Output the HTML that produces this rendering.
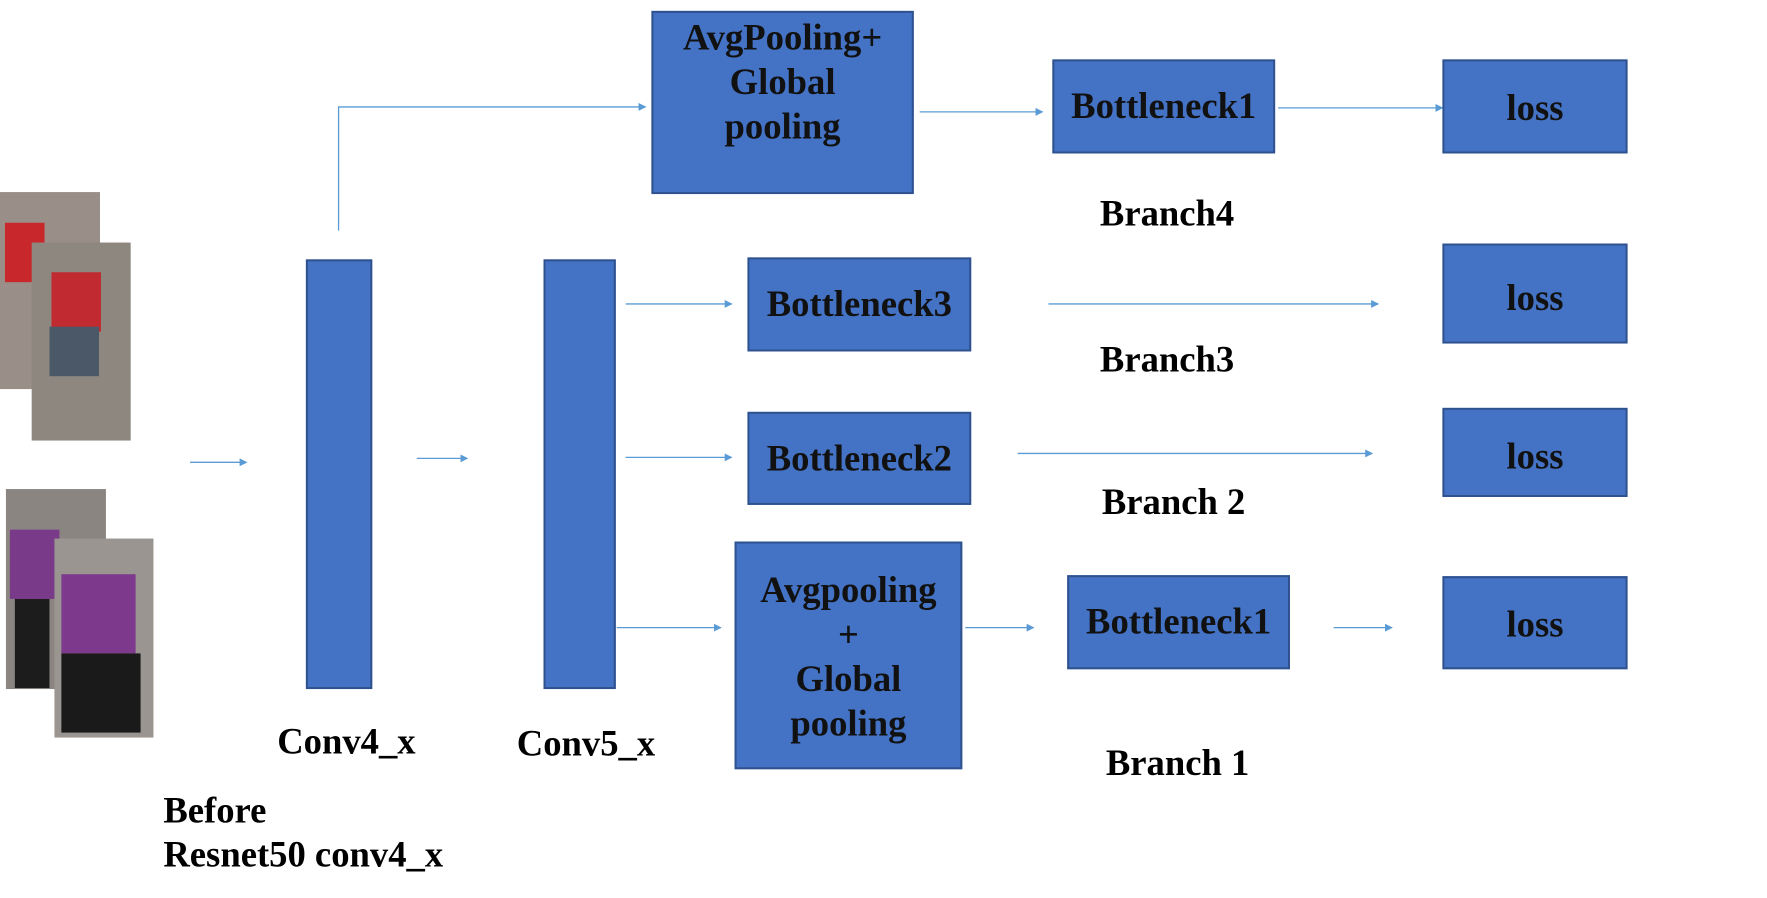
<!DOCTYPE html>
<html><head><meta charset="utf-8"><style>
body{margin:0;width:1767px;height:898px;background:#fff;overflow:hidden;font-family:"Liberation Serif",serif;font-weight:bold;}
#w{position:absolute;left:0;top:0;width:1767px;height:898px;transform:scale(0.99);transform-origin:0 0;}
.b{position:absolute;background:#4472C4;border:2px solid #2F528F;box-sizing:border-box;display:flex;align-items:center;justify-content:center;text-align:center;color:#111;font-size:37px;line-height:45px;}
.t{position:absolute;font-size:37px;color:#000;white-space:nowrap;}
</style></head><body><div id="w">
<svg width="1767" height="898" style="position:absolute;left:0;top:0">
<defs><marker id="a" markerWidth="8" markerHeight="8" refX="7" refY="4" orient="auto" markerUnits="userSpaceOnUse"><path d="M0,0 L8,4 L0,8z" fill="#5B9BD5"/></marker></defs>
<g stroke="#5B9BD5" stroke-width="1.3" fill="none" marker-end="url(#a)">
<polyline points="342,233 342,108 652,108"/>
<line x1="929" y1="113" x2="1053" y2="113"/>
<line x1="1291" y1="109" x2="1457" y2="109"/>
<line x1="632" y1="307" x2="739" y2="307"/>
<line x1="1059" y1="307" x2="1392" y2="307"/>
<line x1="632" y1="462" x2="739" y2="462"/>
<line x1="1028" y1="458" x2="1386" y2="458"/>
<line x1="623" y1="634" x2="728" y2="634"/>
<line x1="975" y1="634" x2="1044" y2="634"/>
<line x1="1347" y1="634" x2="1406" y2="634"/>
<line x1="192" y1="467" x2="249" y2="467"/>
<line x1="421" y1="463" x2="472" y2="463"/>
</g>
<rect x="0" y="194" width="101" height="199" fill="#9a8f88"/>
<rect x="5" y="225" width="40" height="60" fill="#c8282c"/>
<rect x="32" y="245" width="100" height="200" fill="#8e8780"/>
<rect x="52" y="275" width="50" height="60" fill="#c02a30"/>
<rect x="50" y="330" width="50" height="50" fill="#4a5868"/>
<rect x="6" y="494" width="101" height="202" fill="#8a8580"/>
<rect x="10" y="535" width="50" height="70" fill="#7a3a8a"/>
<rect x="15" y="605" width="35" height="90" fill="#1c1c1c"/>
<rect x="55" y="544" width="100" height="201" fill="#9a9590"/>
<rect x="62" y="580" width="75" height="80" fill="#7d3a8c"/>
<rect x="62" y="660" width="80" height="80" fill="#1a1a1a"/>
</svg>
<div class="b" style="left:658px;top:11px;width:265px;height:185px;align-items:flex-start;padding-top:3px">AvgPooling+<br>Global<br>pooling</div>
<div class="b" style="left:1063px;top:60px;width:225px;height:95px">Bottleneck1</div>
<div class="b" style="left:1457px;top:60px;width:187px;height:95px;padding-top:4px">loss</div>
<div class="b" style="left:309px;top:262px;width:67px;height:434px"></div>
<div class="b" style="left:549px;top:262px;width:73px;height:434px"></div>
<div class="b" style="left:755px;top:260px;width:226px;height:95px">Bottleneck3</div>
<div class="b" style="left:1457px;top:246px;width:187px;height:101px;align-items:flex-start;padding-top:31px">loss</div>
<div class="b" style="left:755px;top:416px;width:226px;height:94px">Bottleneck2</div>
<div class="b" style="left:1457px;top:412px;width:187px;height:90px;align-items:flex-start;padding-top:25px">loss</div>
<div class="b" style="left:742px;top:547px;width:230px;height:230px;padding-top:4px">Avgpooling<br>+<br>Global<br>pooling</div>
<div class="b" style="left:1078px;top:581px;width:225px;height:95px">Bottleneck1</div>
<div class="b" style="left:1457px;top:582px;width:187px;height:94px;padding-top:4px">loss</div>
<div class="t" style="left:1111px;top:195px">Branch4</div>
<div class="t" style="left:1111px;top:342px">Branch3</div>
<div class="t" style="left:1113px;top:486px">Branch 2</div>
<div class="t" style="left:1117px;top:750px">Branch 1</div>
<div class="t" style="left:280px;top:728px">Conv4_x</div>
<div class="t" style="left:522px;top:730px">Conv5_x</div>
<div class="t" style="left:165px;top:798px">Before</div>
<div class="t" style="left:165px;top:842px">Resnet50 conv4_x</div>
</div></body></html>
